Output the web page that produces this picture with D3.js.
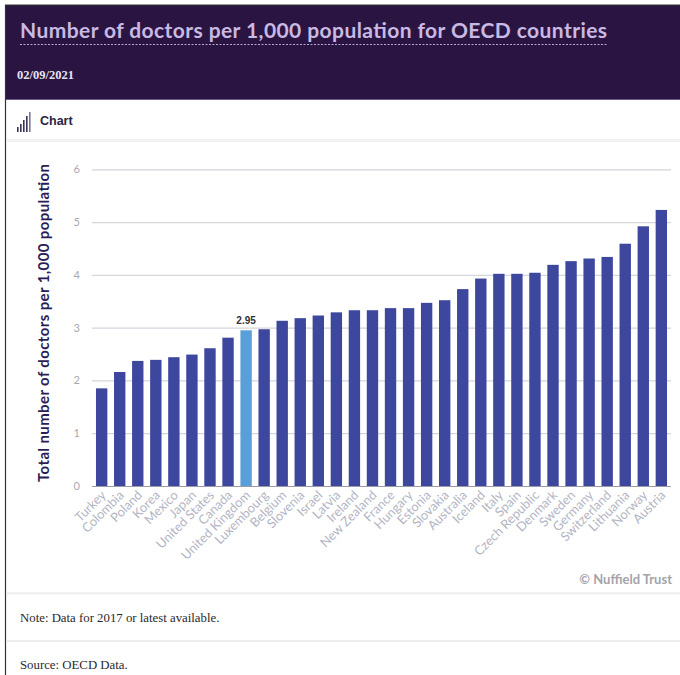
<!DOCTYPE html>
<html>
<head>
<meta charset="utf-8">
<script src="https://cdn.jsdelivr.net/npm/d3@7"></script>
<style>
  html, body { margin: 0; padding: 0; background: #fff; }
  svg { display: block; }
</style>
</head>
<body>
<svg id="chart" width="680" height="675"></svg>
<script>
// Doctors per 1,000 population, OECD countries (2017 or latest available)
const countries = ["Turkey", "Colombia", "Poland", "Korea", "Mexico", "Japan", "United States", "Canada",
  "United Kingdom", "Luxembourg", "Belgium", "Slovenia", "Israel", "Latvia", "Ireland", "New Zealand",
  "France", "Hungary", "Estonia", "Slovakia", "Australia", "Iceland", "Italy", "Spain", "Czech Republic",
  "Denmark", "Sweden", "Germany", "Switzerland", "Lithuania", "Norway", "Austria"];
const doctors = [1.85, 2.16, 2.37, 2.39, 2.44, 2.49, 2.61, 2.81,
  2.95, 2.97, 3.13, 3.18, 3.23, 3.29, 3.33, 3.33,
  3.37, 3.37, 3.47, 3.52, 3.73, 3.93, 4.02, 4.02, 4.04,
  4.19, 4.26, 4.31, 4.34, 4.59, 4.92, 5.23];
const yTicks = [0, 1, 2, 3, 4, 5, 6];
const highlighted = "United Kingdom";

const data = countries.map((c, i) => ({ country: c, value: doctors[i] }));

const svg = d3.select("#chart");
const W = 680, H = 675;

// Page frame
svg.append("rect").attr("x", 0).attr("y", 0).attr("width", W).attr("height", H).attr("fill", "#fff");

// Header band
svg.append("rect").attr("x", 5).attr("y", 5).attr("width", W - 5).attr("height", 95).attr("fill", "#2a1542");
svg.append("line").attr("x1", 5).attr("x2", W).attr("y1", 99.5).attr("y2", 99.5)
  .attr("stroke", "#6e5c8c").attr("stroke-width", 1.2);
svg.append("line").attr("x1", 5).attr("x2", W).attr("y1", 5).attr("y2", 5)
  .attr("stroke", "#333").attr("stroke-width", 1.2);
svg.append("line").attr("x1", 5.5).attr("x2", 5.5).attr("y1", 5).attr("y2", H)
  .attr("stroke", "#333").attr("stroke-width", 1.2);

const titleWidth = 587;
svg.append("text")
  .attr("x", 20).attr("y", 38)
  .attr("font-family", "Lato, 'Noto Sans', sans-serif")
  .attr("font-weight", 700).attr("font-size", 21)
  .attr("fill", "#c9b9e3")
  .attr("textLength", titleWidth).attr("lengthAdjust", "spacing")
  .text("Number of doctors per 1,000 population for OECD countries");
svg.append("line").attr("x1", 20).attr("x2", 20 + titleWidth).attr("y1", 44.5).attr("y2", 44.5)
  .attr("stroke", "#b9a8d6").attr("stroke-width", 1).attr("stroke-dasharray", "2,1.5");

svg.append("text")
  .attr("x", 17).attr("y", 79)
  .attr("font-family", "'Liberation Serif', 'DejaVu Serif', serif")
  .attr("font-weight", 700).attr("font-size", 12.5)
  .attr("fill", "#e8e2f0")
  .text("02/09/2021");

// "Chart" tab with small bar icon
const iconHeights = [5, 8, 12, 16, 20];
svg.append("g").selectAll("rect").data(iconHeights).join("rect")
  .attr("x", (d, i) => 17 + i * 3)
  .attr("y", d => 132 - d)
  .attr("width", 1.6).attr("height", d => d)
  .attr("fill", (d, i) => i === 4 ? "#7d7493" : "#3b3358");
svg.append("text")
  .attr("x", 40).attr("y", 125)
  .attr("font-family", "Arimo, 'Liberation Sans', sans-serif")
  .attr("font-weight", 700).attr("font-size", 12.5)
  .attr("fill", "#2a2440")
  .text("Chart");
svg.append("rect").attr("x", 6).attr("y", 139).attr("width", W - 6).attr("height", 3).attr("fill", "#f1f1f3");

// Plot scales
const x = d3.scaleBand().domain(countries).range([92, 671]).paddingInner(0.37).paddingOuter(0.22);
const y = d3.scaleLinear().domain([0, 6]).range([486, 169.3]);

// Gridlines + tick labels
const yAxis = d3.axisLeft(y).tickValues(yTicks).tickSize(-(671 - 92)).tickPadding(12).tickFormat(d3.format("d"));
const gy = svg.append("g").attr("transform", "translate(92,0)").call(yAxis);
gy.select(".domain").remove();
gy.selectAll(".tick line").attr("stroke", "#d4d6dc").attr("stroke-width", 1.2);
gy.selectAll(".tick text")
  .attr("font-family", "Lato, sans-serif").attr("font-size", 11).attr("fill", "#a9a9b2");

// Bars
svg.append("g").selectAll("rect").data(data).join("rect")
  .attr("x", d => x(d.country))
  .attr("y", d => y(d.value))
  .attr("width", x.bandwidth())
  .attr("height", d => y(0) - y(d.value))
  .attr("fill", d => d.country === highlighted ? "#5b9fd8" : "#3d479e");

// Baseline
svg.append("line").attr("x1", 92).attr("x2", 671).attr("y1", y(0) + 0.5).attr("y2", y(0) + 0.5)
  .attr("stroke", "#9a9aa8").attr("stroke-width", 1.2);

// Value label on the highlighted bar
const hl = data.find(d => d.country === highlighted);
svg.append("text")
  .attr("x", x(hl.country) + x.bandwidth() / 2)
  .attr("y", y(hl.value) - 6)
  .attr("text-anchor", "middle")
  .attr("font-family", "Arimo, 'Liberation Sans', sans-serif")
  .attr("font-weight", 700).attr("font-size", 10)
  .attr("fill", "#333")
  .attr("stroke", "#fff").attr("stroke-width", 2.5).attr("paint-order", "stroke")
  .text(d3.format(".2f")(hl.value));

// Category labels
const xAxis = d3.axisBottom(x).tickSize(0).tickPadding(0);
const gx = svg.append("g").attr("transform", `translate(0,${y(0)})`).call(xAxis);
gx.select(".domain").remove();
gx.selectAll(".tick text")
  .attr("font-family", "Lato, sans-serif").attr("font-size", 12.8).attr("fill", "#b3b5c4")
  .attr("text-anchor", "end")
  .attr("dy", null)
  .attr("transform", "translate(5,10) rotate(-45)");

// Y-axis title
svg.append("text")
  .attr("transform", "translate(48.5,323) rotate(-90)")
  .attr("text-anchor", "middle")
  .attr("font-family", "Lato, sans-serif")
  .attr("font-weight", 700).attr("font-size", 15)
  .attr("fill", "#2b1d55")
  .attr("textLength", 318).attr("lengthAdjust", "spacing")
  .text("Total number of doctors per 1,000 population");

// Credit
svg.append("text")
  .attr("x", 672).attr("y", 584)
  .attr("text-anchor", "end")
  .attr("font-family", "Lato, sans-serif").attr("font-weight", 700).attr("font-size", 13)
  .attr("fill", "#a3a3ab")
  .text("© Nuffield Trust");

// Footer separators and notes
svg.append("rect").attr("x", 6).attr("y", 592).attr("width", W - 6).attr("height", 2.5).attr("fill", "#f0f0f2");
svg.append("rect").attr("x", 6).attr("y", 640).attr("width", W - 6).attr("height", 2).attr("fill", "#ededf0");
svg.append("text")
  .attr("x", 20).attr("y", 622)
  .attr("font-family", "'Liberation Serif', 'DejaVu Serif', serif").attr("font-size", 12.8)
  .attr("fill", "#2a2a2a")
  .text("Note:  Data for 2017 or latest available.");
svg.append("text")
  .attr("x", 20).attr("y", 669)
  .attr("font-family", "'Liberation Serif', 'DejaVu Serif', serif").attr("font-size", 12.8)
  .attr("fill", "#2a2a2a")
  .text("Source:  OECD Data.");
</script>
</body>
</html>
